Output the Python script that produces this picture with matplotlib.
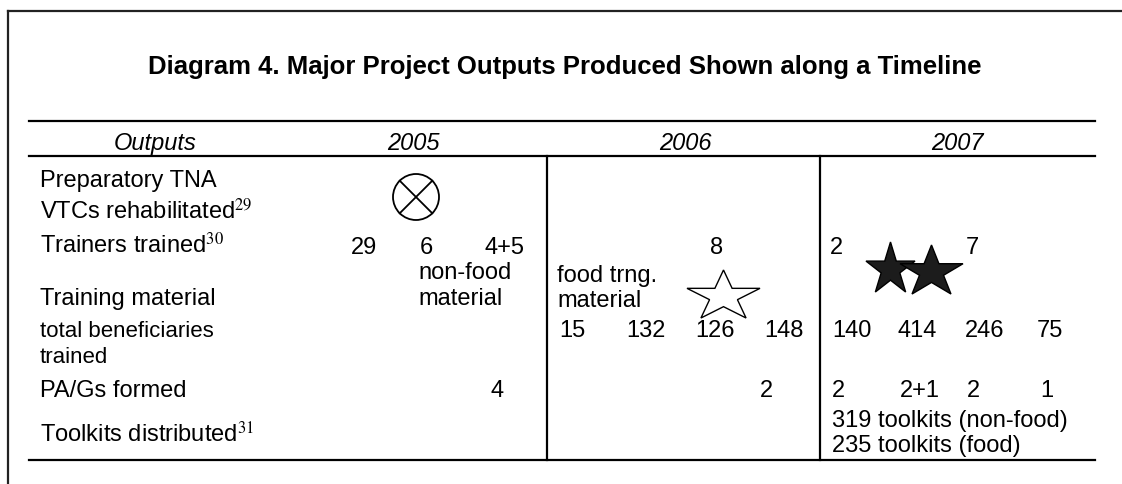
import numpy as np
import matplotlib
matplotlib.use('Agg')
import matplotlib.pyplot as plt
from matplotlib.patches import Polygon, Circle

plt.rcParams['font.family'] = ['Liberation Sans', 'DejaVu Sans']
plt.rcParams['mathtext.fontset'] = 'stix'

# --- content ---
TITLE = 'Diagram 4. Major Project Outputs Produced Shown along a Timeline'
header = ['Outputs', '2005', '2006', '2007']
row_labels = ['Preparatory TNA', 'VTCs rehabilitated$^{29}$', 'Trainers trained$^{30}$',
              'Training material', 'PA/Gs formed', 'Toolkits distributed$^{31}$']
beneficiary_label = ['total beneficiaries', 'trained']
trainers_trained = ['29', '6', '4+5', '8', '2', '7']
training_material = ['non-food', 'material', 'food trng.', 'material']
beneficiaries_trained = ['15', '132', '126', '148', '140', '414', '246', '75']
pags_formed = ['4', '2', '2', '2+1', '2', '1']
toolkits = ['319 toolkits (non-food)', '235 toolkits (food)']

# --- layout (pixel coordinates, y down) ---
W, H = 1122, 484
header_x = [155, 413, 685, 957]
label_y = [187, 219, 253, 305, 397, 442]
benef_label_y = [337, 363]
trainers_x = [364, 426, 505, 717, 836, 972]
material_pos = [(418, 279), (418, 305), (557, 282), (557, 307)]
benef_x = [559, 626, 695, 764, 832, 898, 965, 1037]
pags_x = [491, 760, 832, 900, 967, 1040]
toolkits_y = [427, 452]
col_lines = [547, 820]
FS = 17


def star(ax, x0, x1, y0, y1, face):
    ang = np.pi / 2 + np.arange(10) * np.pi / 5
    rad = np.where(np.arange(10) % 2 == 0, 1.0, 0.382)
    px = rad * np.cos(ang)
    py = -rad * np.sin(ang)
    px = x0 + (px - px.min()) / (px.max() - px.min()) * (x1 - x0)
    py = y0 + (py - py.min()) / (py.max() - py.min()) * (y1 - y0)
    ax.add_patch(Polygon(np.column_stack([px, py]), closed=True,
                         facecolor=face, edgecolor='black', lw=1.0, zorder=3))


fig = plt.figure(figsize=(W / 100, H / 100), dpi=100)
ax = fig.add_axes([0, 0, 1, 1])
ax.set_xlim(0, W)
ax.set_ylim(H, 0)
ax.axis('off')

# outer frame (top and left only)
ax.plot([8, W], [11, 11], color='#222222', lw=1.6)
ax.plot([8, 8], [11, H], color='#222222', lw=1.6)

ax.text(565, 67, TITLE, fontsize=18.5, fontweight='bold', ha='center', va='center')

# table rules
for y in [121, 156, 460]:
    ax.plot([29, 1095], [y, y], color='black', lw=1.6)
for x in col_lines:
    ax.plot([x, x], [156, 460], color='black', lw=1.6)

for x, h in zip(header_x, header):
    ax.text(x, 150, h, fontsize=FS, style='italic', ha='center', va='baseline')

for y, lab in zip(label_y, row_labels):
    ax.text(40, y, lab, fontsize=FS, ha='left', va='baseline')
for y, lab in zip(benef_label_y, beneficiary_label):
    ax.text(40, y, lab, fontsize=16, ha='left', va='baseline')

for x, v in zip(trainers_x, trainers_trained):
    ax.text(x, 254, v, fontsize=FS, ha='center', va='baseline')
for (x, y), v in zip(material_pos, training_material):
    ax.text(x, y, v, fontsize=FS, ha='left', va='baseline')
for x, v in zip(benef_x, beneficiaries_trained):
    ax.text(x, 337, v, fontsize=FS, ha='left', va='baseline')
for x, v in zip(pags_x, pags_formed):
    ax.text(x, 397, v, fontsize=FS, ha='left', va='baseline')
for y, v in zip(toolkits_y, toolkits):
    ax.text(832, y, v, fontsize=FS, ha='left', va='baseline')

# symbols
ax.add_patch(Circle((416, 197), 23, fill=False, edgecolor='black', lw=1.3))
d = 23 / np.sqrt(2)
ax.plot([416 - d, 416 + d], [197 - d, 197 + d], color='black', lw=1.3)
ax.plot([416 - d, 416 + d], [197 + d, 197 - d], color='black', lw=1.3)
star(ax, 687, 760, 270, 318, 'white')
star(ax, 866, 915, 242, 292, '#1c1c1c')
star(ax, 900, 963, 245, 294, '#1c1c1c')

fig.savefig('out.png', dpi=100)
